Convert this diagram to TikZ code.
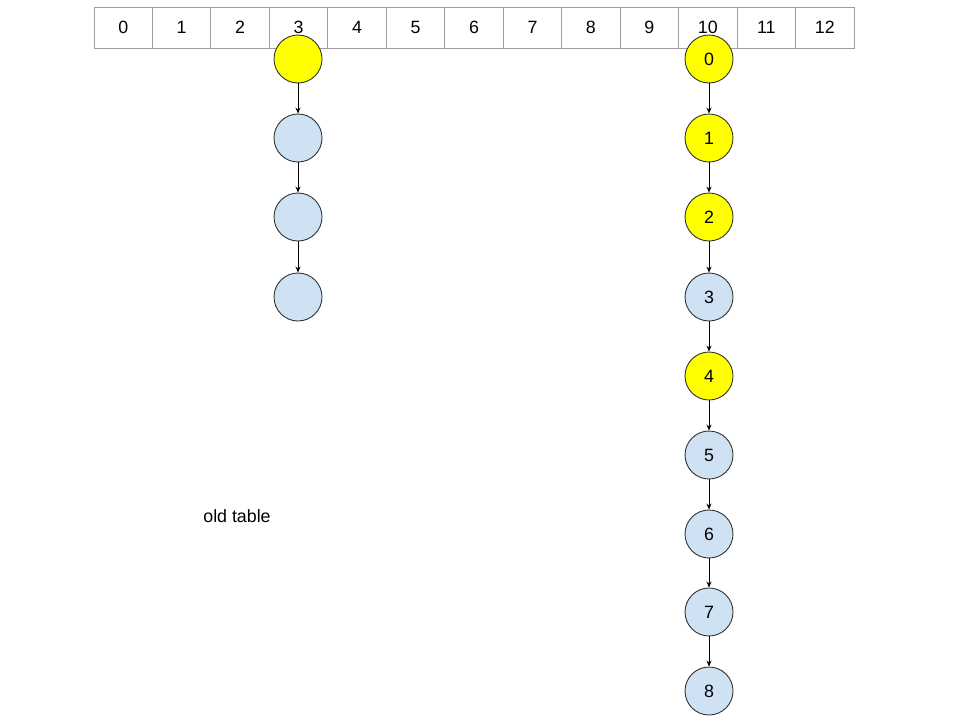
\documentclass[tikz,border=0pt]{standalone}
\usepackage{fontspec}
\setmainfont{Liberation Sans}
\usetikzlibrary{arrows.meta}
\definecolor{cellgray}{HTML}{9E9E9E}
\definecolor{nodeblue}{HTML}{CFE2F3}
\definecolor{nodeyellow}{HTML}{FFFF00}
\begin{document}
\begin{tikzpicture}[x=1pt,y=-1pt,
  cell/.style={draw=cellgray,line width=0.9pt,minimum width=58.46pt,minimum height=41pt,inner sep=0pt,font=\fontsize{17.8}{20}\selectfont,anchor=center},
  ynode/.style={circle,draw=black!80,line width=0.9pt,fill=nodeyellow,minimum size=48pt,inner sep=0pt,font=\fontsize{17.8}{20}\selectfont},
  bnode/.style={circle,draw=black!80,line width=0.9pt,fill=nodeblue,minimum size=48pt,inner sep=0pt,font=\fontsize{17.8}{20}\selectfont},
  link/.style={draw=black,line width=0.8pt,-{Stealth[length=6pt,width=5pt]}}]
\useasboundingbox (0,0) rectangle (960,720);
\fill[white] (0,0) rectangle (960,720);
% table
\foreach \i in {0,...,12}{
  \node[cell] (c\i) at ({94+58.46*(\i+0.5)},27.5) {\i};
}
% left chain
\node[ynode] (a0) at (298,59) {};
\node[bnode] (a1) at (298,138) {};
\node[bnode] (a2) at (298,217) {};
\node[bnode] (a3) at (298,297) {};
\draw[link] (a0) -- (a1);
\draw[link] (a1) -- (a2);
\draw[link] (a2) -- (a3);
% right chain
\node[ynode] (b0) at (709,59) {0};
\node[ynode] (b1) at (709,138) {1};
\node[ynode] (b2) at (709,217) {2};
\node[bnode] (b3) at (709,297) {3};
\node[ynode] (b4) at (709,376) {4};
\node[bnode] (b5) at (709,455) {5};
\node[bnode] (b6) at (709,534) {6};
\node[bnode] (b7) at (709,612) {7};
\node[bnode] (b8) at (709,691) {8};
\foreach \p/\q in {b0/b1,b1/b2,b2/b3,b3/b4,b4/b5,b5/b6,b6/b7,b7/b8}{
  \draw[link] (\p) -- (\q);
}
\node[font=\fontsize{17.8}{20}\selectfont] (lbl) at (237,516) {old table};
\end{tikzpicture}
\end{document}
